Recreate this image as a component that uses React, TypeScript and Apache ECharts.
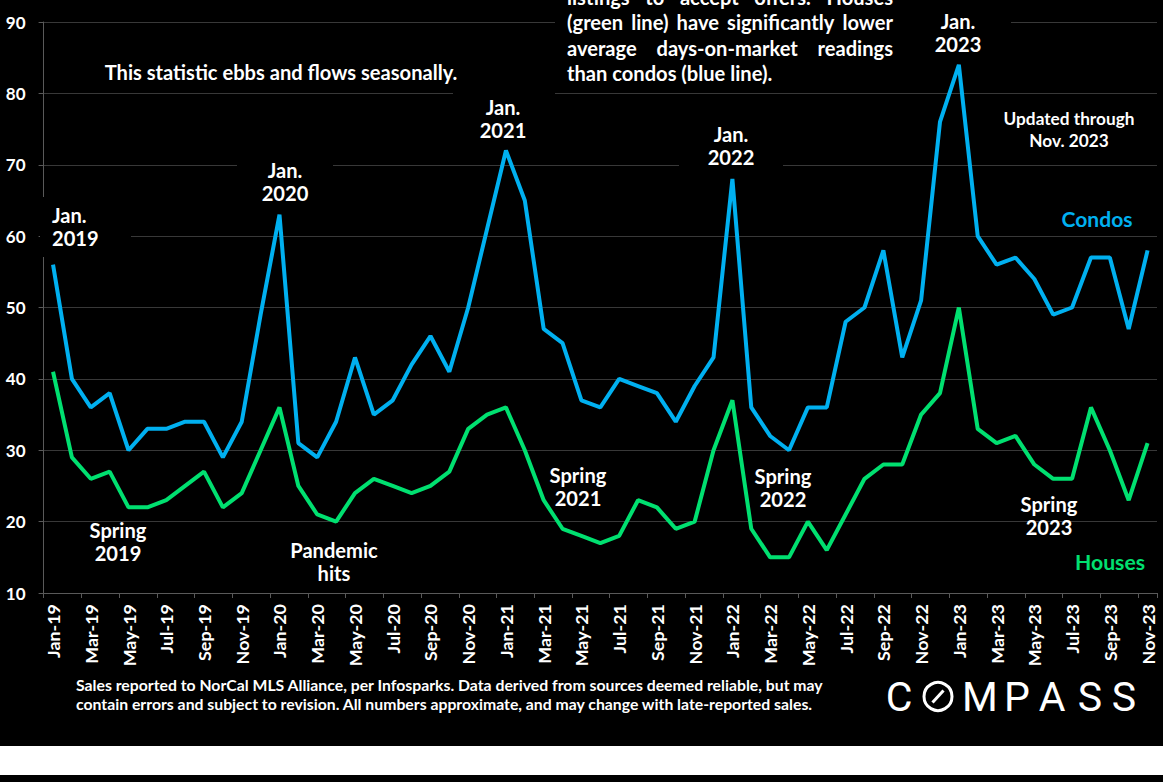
import React, { useEffect, useRef } from "react";
import * as echarts from "echarts";

const months = [
  "Jan-19", "Feb-19", "Mar-19", "Apr-19", "May-19", "Jun-19", "Jul-19", "Aug-19", "Sep-19", "Oct-19", "Nov-19", "Dec-19",
  "Jan-20", "Feb-20", "Mar-20", "Apr-20", "May-20", "Jun-20", "Jul-20", "Aug-20", "Sep-20", "Oct-20", "Nov-20", "Dec-20",
  "Jan-21", "Feb-21", "Mar-21", "Apr-21", "May-21", "Jun-21", "Jul-21", "Aug-21", "Sep-21", "Oct-21", "Nov-21", "Dec-21",
  "Jan-22", "Feb-22", "Mar-22", "Apr-22", "May-22", "Jun-22", "Jul-22", "Aug-22", "Sep-22", "Oct-22", "Nov-22", "Dec-22",
  "Jan-23", "Feb-23", "Mar-23", "Apr-23", "May-23", "Jun-23", "Jul-23", "Aug-23", "Sep-23", "Oct-23", "Nov-23",
];

const condos = [
  56, 40, 36, 38, 30, 33, 33, 34, 34, 29, 34, 49,
  63, 31, 29, 34, 43, 35, 37, 42, 46, 41, 50, 61,
  72, 65, 47, 45, 37, 36, 40, 39, 38, 34, 39, 43,
  68, 36, 32, 30, 36, 36, 48, 50, 58, 43, 51, 76,
  84, 60, 56, 57, 54, 49, 50, 57, 57, 47, 58,
];

const houses = [
  41, 29, 26, 27, 22, 22, 23, 25, 27, 22, 24, 30,
  36, 25, 21, 20, 24, 26, 25, 24, 25, 27, 33, 35,
  36, 30, 23, 19, 18, 17, 18, 23, 22, 19, 20, 30,
  37, 19, 15, 15, 20, 16, 21, 26, 28, 28, 35, 38,
  50, 33, 31, 32, 28, 26, 26, 36, 30, 23, 31,
];

const yMin = 10;
const yMax = 90;
const yStep = 10;

const FONT = "Lato";
const BLUE = "#00B0F0";
const GREEN = "#00E070";

let measureCtx: CanvasRenderingContext2D | null = null;
function measure(text: string, size: number, weight: any = "bold", family = FONT) {
  if (!measureCtx) measureCtx = document.createElement("canvas").getContext("2d");
  if (!measureCtx) return text.length * size * 0.5;
  measureCtx.font = `${weight} ${size}px ${family}`;
  return measureCtx.measureText(text).width;
}
function fit(text: string, width: number, weight: any = "bold", family = FONT) {
  return (100 * width) / measure(text, 100, weight, family);
}

export default function App() {
  const ref = useRef<HTMLDivElement>(null);

  useEffect(() => {
    if (!ref.current) return;
    const chart = echarts.init(ref.current, null, { renderer: "svg" });

    const fs = fit("This statistic ebbs and flows seasonally.", 353);
    const footFs = fit(
      "Sales reported to NorCal MLS Alliance, per Infosparks. Data derived from sources deemed reliable, but may",
      748
    );
    const updFs = fit("Updated through", 131);
    const xFs = fit("Jan-19", 54);

    const txt = (text: string, x: number, y: number, opts: any = {}) => ({
      type: "text",
      x,
      y,
      z: 3,
      silent: true,
      style: {
        text,
        fill: opts.fill || "#ffffff",
        fontFamily: opts.family || FONT,
        fontWeight: opts.weight || "bold",
        fontSize: opts.size || fs,
        lineHeight: opts.lineHeight || 23,
        align: opts.align || "center",
        verticalAlign: "middle",
      },
    });

    const justify = (words: string[], left: number, right: number, y: number) => {
      const widths = words.map((w) => measure(w, fs));
      const total = widths.reduce((a, b) => a + b, 0);
      const gap = (right - left - total) / (words.length - 1);
      let x = left;
      return words.map((w, i) => {
        const el = txt(w, x, y, { align: "left" });
        x += widths[i] + gap;
        return el;
      });
    };

    const mask = (x1: number, y1: number, x2: number, y2: number) => ({
      type: "rect",
      z: 1,
      silent: true,
      shape: { x: x1, y: y1, width: x2 - x1, height: y2 - y1 },
      style: { fill: "#000000" },
    });

    // Compass logo letters
    const logoFs = 41;
    const logoLetters: [string, number][] = [
      ["C", 899],
      ["M", 980],
      ["P", 1017],
      ["A", 1052],
      ["S", 1090],
      ["S", 1124],
    ];

    const graphic: any[] = [
      { type: "rect", z: 0, silent: true, shape: { x: 0, y: 746, width: 1163, height: 29 }, style: { fill: "#ffffff" } },
      mask(40, 197, 131, 257),
      mask(237, 152, 333, 208),
      mask(453, 84, 555, 146),
      mask(555, -10, 900, 86),
      mask(900, -10, 1011, 58),
      mask(679, 120, 783, 172),
      txt("This statistic ebbs and flows seasonally.", 281, 72),
      ...justify(["listings", "to", "accept", "offers.", "Houses"], 567, 893, -3),
      ...justify(["(green", "line)", "have", "significantly", "lower"], 567, 893, 22),
      ...justify(["average", "days-on-market", "readings"], 567, 893, 48),
      txt("than condos (blue line).", 567, 73, { align: "left" }),
      txt("Jan.\n2019", 52, 226.5, { align: "left" }),
      txt("Jan.\n2020", 285, 181.5),
      txt("Jan.\n2021", 503, 118.5),
      txt("Jan.\n2022", 731, 145.5),
      txt("Jan.\n2023", 958, 32),
      txt("Updated through\nNov. 2023", 1069, 129, { lineHeight: 22, size: updFs }),
      txt("Condos", 1097, 218, { fill: BLUE, size: fit("Condos", 71) }),
      txt("Houses", 1110, 562, { fill: GREEN, size: fit("Houses", 70) }),
      txt("Spring\n2019", 118, 541),
      txt("Pandemic\nhits", 334, 561),
      txt("Spring\n2021", 578, 486.5),
      txt("Spring\n2022", 783, 487.5),
      txt("Spring\n2023", 1049, 515.5),
      txt(
        "Sales reported to NorCal MLS Alliance, per Infosparks. Data derived from sources deemed reliable, but may",
        76,
        684,
        { align: "left", size: footFs }
      ),
      txt(
        "contain errors and subject to revision. All numbers approximate, and may change with late-reported sales.",
        76,
        703,
        { align: "left", size: footFs }
      ),
      ...logoLetters.map(([l, x]) =>
        txt(l, x, 697, { family: "Roboto", weight: 400, size: logoFs })
      ),
      {
        type: "circle",
        z: 3,
        silent: true,
        shape: { cx: 938, cy: 696.5, r: 14 },
        style: { fill: "none", stroke: "#ffffff", lineWidth: 3 },
      },
      {
        type: "line",
        z: 3,
        silent: true,
        shape: { x1: 932.5, y1: 702.5, x2: 943.5, y2: 690.5 },
        style: { stroke: "#ffffff", lineWidth: 3 },
      },
    ];

    chart.setOption({
      animation: false,
      backgroundColor: "#000000",
      grid: { left: 43.6, right: 6, top: 22, bottom: 189, containLabel: false },
      xAxis: {
        type: "category",
        data: months,
        boundaryGap: true,
        axisLine: { show: true, lineStyle: { color: "#595959", width: 1 } },
        axisTick: { show: true, interval: 1, length: 5, lineStyle: { color: "#595959" } },
        axisLabel: {
          interval: 1,
          rotate: 90,
          color: "#ffffff",
          fontFamily: FONT,
          fontWeight: "bold",
          fontSize: xFs,
          margin: 11,
        },
        splitLine: { show: false },
      },
      yAxis: {
        type: "value",
        min: yMin,
        max: yMax,
        interval: yStep,
        axisLine: { show: true, lineStyle: { color: "#595959", width: 1 } },
        axisTick: { show: true, length: 5, lineStyle: { color: "#595959" } },
        axisLabel: {
          color: "#ffffff",
          fontFamily: FONT,
          fontWeight: "bold",
          fontSize: 17,
          margin: 18,
        },
        splitLine: { show: true, lineStyle: { color: "#383838", width: 1 } },
      },
      series: [
        {
          name: "Condos",
          type: "line",
          data: condos,
          symbol: "none",
          z: 2,
          lineStyle: { color: BLUE, width: 4 },
        },
        {
          name: "Houses",
          type: "line",
          data: houses,
          symbol: "none",
          z: 2,
          lineStyle: { color: GREEN, width: 4 },
        },
      ],
      graphic,
    });

    return () => chart.dispose();
  }, []);

  return (
    <div
      ref={ref}
      style={{ position: "absolute", left: 0, top: 0, width: 1163, height: 782, background: "#000" }}
    />
  );
}
